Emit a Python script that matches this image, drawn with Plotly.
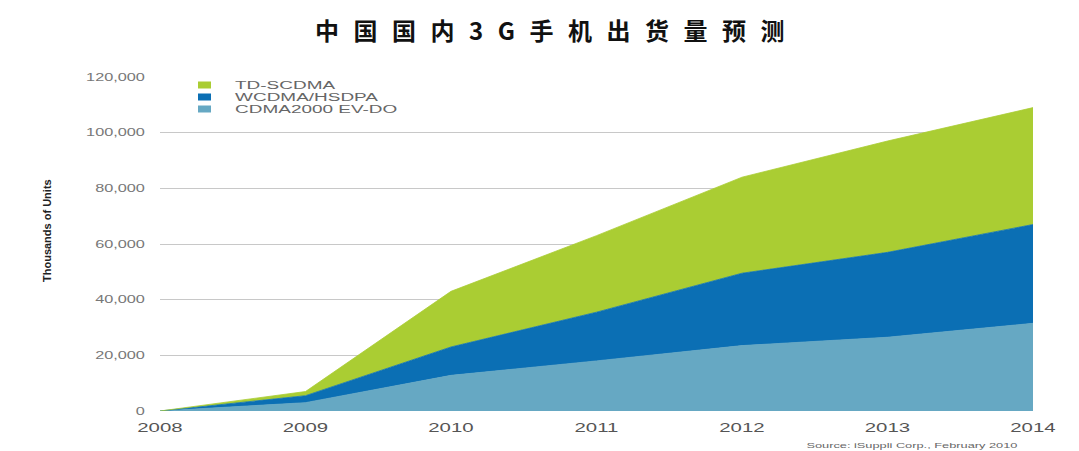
import plotly.graph_objects as go

years = [2008, 2009, 2010, 2011, 2012, 2013, 2014]
series_names = ["CDMA2000 EV-DO", "WCDMA/HSDPA", "TD-SCDMA"]
cdma2000 = [0, 3000, 12800, 18000, 23500, 26500, 31500]
wcdma = [0, 2500, 10200, 17500, 26000, 30500, 35500]
tdscdma = [0, 1500, 20000, 27500, 34500, 40000, 42000]
colors = ["#66A8C3", "#0B6FB4", "#AACD33"]
yticks = [0, 20000, 40000, 60000, 80000, 100000, 120000]

title_text = "中国国内3G手机出货量预测"
ytitle = "Thousands of Units"
source_text = "Source: iSuppli Corp., February 2010"

W, H = 1079, 451
ml, mr, mt, mb = 160, 46, 77, 40
pw, ph = W - ml - mr, H - mt - mb

def px(x):
    return (x - ml) / pw

def py(y):
    return (H - mb - y) / ph

fig = go.Figure()
for name, vals, col in zip(series_names, [cdma2000, wcdma, tdscdma], colors):
    fig.add_trace(go.Scatter(
        x=years, y=vals, name=name, mode="lines", stackgroup="one",
        line=dict(color=col, width=0.8), fillcolor=col, showlegend=False,
    ))

SANS = "Liberation Sans, Arial"

# compact legend (top to bottom: TD-SCDMA, WCDMA, CDMA2000)
legend_y = [85, 97, 109]
for i, (name, col) in enumerate(zip(series_names[::-1], colors[::-1])):
    yc = legend_y[i]
    fig.add_shape(type="rect", xref="paper", yref="paper",
                  x0=px(198), x1=px(211), y0=py(yc + 3.5), y1=py(yc - 3.5),
                  fillcolor=col, line=dict(width=0))
    fig.add_annotation(text=name, xref="paper", yref="paper",
                       x=px(233), y=py(yc), xanchor="left", yanchor="middle",
                       showarrow=False,
                       font=dict(family=SANS, size=11.5, color="#666666"))

fig.add_annotation(text=ytitle, xref="paper", yref="paper", x=px(47), y=py(230),
                   textangle=-90, showarrow=False, xanchor="center", yanchor="middle",
                   font=dict(family=SANS, size=11, color="#222222", weight="bold"))

fig.add_annotation(text=source_text, xref="paper", yref="paper", x=px(912), y=py(445),
                   xanchor="center", yanchor="middle", showarrow=False,
                   font=dict(family=SANS, size=8, color="#666666"))

fig.update_layout(
    width=W, height=H,
    margin=dict(l=ml, r=mr, t=mt, b=mb),
    paper_bgcolor="white", plot_bgcolor="white",
    title=dict(text=title_text, xref="container", x=557 / W, xanchor="center",
               yref="container", y=1 - 32 / H, yanchor="middle",
               font=dict(family="Noto Sans CJK SC", size=24, color="#111111", weight="bold")),
    xaxis=dict(range=[2008, 2014], tickmode="array", tickvals=years,
               ticktext=[str(y) for y in years], showgrid=False, zeroline=False,
               showline=False, ticks="", ticklabelstandoff=8,
               tickfont=dict(family=SANS, size=12, color="#555555")),
    yaxis=dict(range=[0, 120000], tickmode="array", tickvals=yticks,
               ticktext=[f"{v:,}" for v in yticks], showgrid=True, gridcolor="#C8C8C8",
               gridwidth=1, zeroline=False, showline=False, ticks="",
               ticklabelstandoff=14,
               tickfont=dict(family=SANS, size=10.5, color="#777777")),
)

# the reference's small text is horizontally stretched; mimic it with scaleX
post = """
function sx(e, s, mode){
  var b = e.getBBox();
  var ax = mode === 'l' ? b.x : (mode === 'r' ? b.x + b.width : b.x + b.width / 2);
  var tr = e.getAttribute('transform') || '';
  e.setAttribute('transform', tr + ' translate(' + ax + ',0) scale(' + s + ',1) translate(' + (-ax) + ',0)');
}
document.querySelectorAll('.gtitle').forEach(function(e){ e.style.letterSpacing = '14.5px'; });
document.querySelectorAll('.xtick text').forEach(function(e){ sx(e, 1.7, 'c'); });
document.querySelectorAll('.ytick text').forEach(function(e){ sx(e, 1.55, 'r'); });
var legendNames = ['TD-SCDMA', 'WCDMA/HSDPA', 'CDMA2000 EV-DO'];
document.querySelectorAll('.annotation-text').forEach(function(e){
  var t = e.textContent;
  if (legendNames.indexOf(t) >= 0) { sx(e, 1.65, 'l'); }
  else if (t.indexOf('Source') === 0) { sx(e, 1.6, 'c'); }
});
"""
fig.write_html("out.html", post_script=post)
